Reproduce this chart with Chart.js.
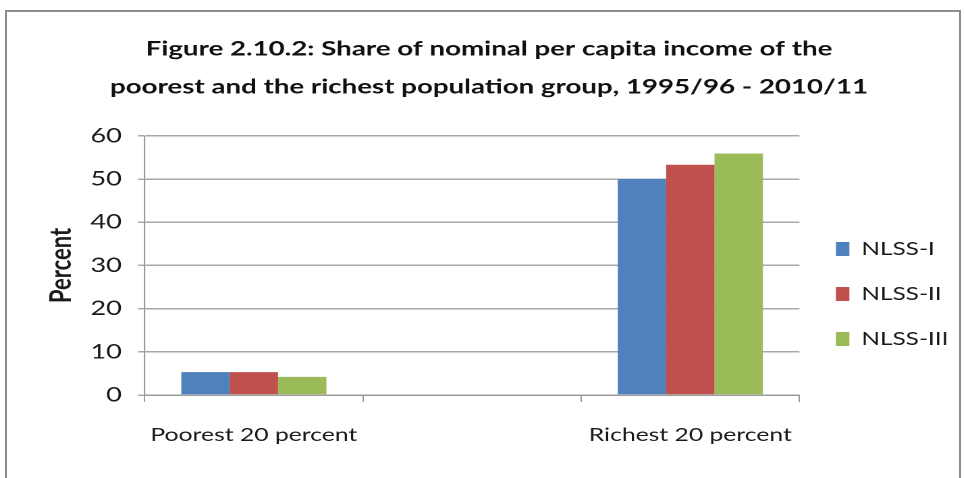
<!DOCTYPE html>
<html>
<head>
<meta charset="utf-8">
<script src="https://cdn.jsdelivr.net/npm/chart.js@4"></script>
<style>
  html, body { margin: 0; padding: 0; background: #fff; }
  #wrap { position: relative; width: 965px; height: 478px; overflow: hidden; }
  #frame { position: absolute; left: 5px; top: 10px; width: 956px; height: 480px;
           border: 2px solid #8c8c8c; box-sizing: border-box; }
  /* the source picture is drawn wide: stretch the whole chart sideways */
  #stretch { position: absolute; left: 0; top: 0; width: 715px; height: 478px;
             transform: scaleX(1.35); transform-origin: 0 0; }
</style>
</head>
<body>
<div id="wrap">
  <div id="frame"></div>
  <div id="stretch"><canvas id="chart" width="715" height="478"></canvas></div>
</div>
<script>
/* ── DATA ─────────────────────────────────────────────── */
const categories = ['Poorest 20 percent', '', 'Richest 20 percent'];
const nlss1 = [5.3, null, 50.0];
const nlss2 = [5.3, null, 53.3];
const nlss3 = [4.2, null, 55.9];
const yTicks = [0, 10, 20, 30, 40, 50, 60];

Chart.defaults.font.family = 'Lato, "Noto Sans", sans-serif';
Chart.defaults.color = '#1a1a1a';

const ctx = document.getElementById('chart');
new Chart(ctx, {
  type: 'bar',
  data: {
    labels: categories,
    datasets: [
      { label: 'NLSS-I',   data: nlss1, backgroundColor: '#4f81bd' },
      { label: 'NLSS-II',  data: nlss2, backgroundColor: '#c0504d' },
      { label: 'NLSS-III', data: nlss3, backgroundColor: '#9bbb59' }
    ]
  },
  options: {
    responsive: false,
    animation: false,
    devicePixelRatio: 2,
    layout: { padding: { left: 12, right: 2.5, top: 30, bottom: 10 } },
    datasets: { bar: { categoryPercentage: 0.665, barPercentage: 1, borderWidth: 0 } },
    plugins: {
      title: {
        display: true,
        text: ['Figure 2.10.2: Share of nominal per capita income of the',
               'poorest and the richest population group, 1995/96 - 2010/11'],
        font: { size: 20.5, weight: 'bold', lineHeight: 1.85 },
        color: '#111',
        padding: { top: 0, bottom: 30 }
      },
      legend: {
        position: 'right',
        // empty legend title only pushes the entries down
        title: { display: true, text: ' ', font: { size: 10, lineHeight: 1 }, padding: { top: 80, bottom: 0 } },
        labels: { boxWidth: 10, boxHeight: 14, padding: 27, font: { size: 18 }, color: '#1a1a1a' }
      },
      tooltip: { enabled: false }
    },
    scales: {
      x: {
        grid: { drawOnChartArea: false, drawTicks: true, tickLength: 7, color: '#9a9a9a', lineWidth: 1 },
        border: { display: true, color: '#9a9a9a', width: 1.5 },
        ticks: { font: { size: 18.3 }, padding: 22, color: '#1a1a1a',
                 maxRotation: 0, minRotation: 0, autoSkip: false }
      },
      y: {
        min: 0, max: 60,
        afterBuildTicks: axis => { axis.ticks = yTicks.map(v => ({ value: v })); },
        grid: { color: '#a8a8a8', lineWidth: 1.5, tickLength: 5 },
        border: { display: true, color: '#9a9a9a', width: 1.1 },
        ticks: { font: { size: 20 }, padding: 12, color: '#1a1a1a' },
        title: { display: true, text: 'Percent', font: { size: 22, weight: 'bold', lineHeight: 0.85 },
                 padding: { top: 24.3, bottom: 0 } }
      }
    }
  }
});
</script>
</body>
</html>
